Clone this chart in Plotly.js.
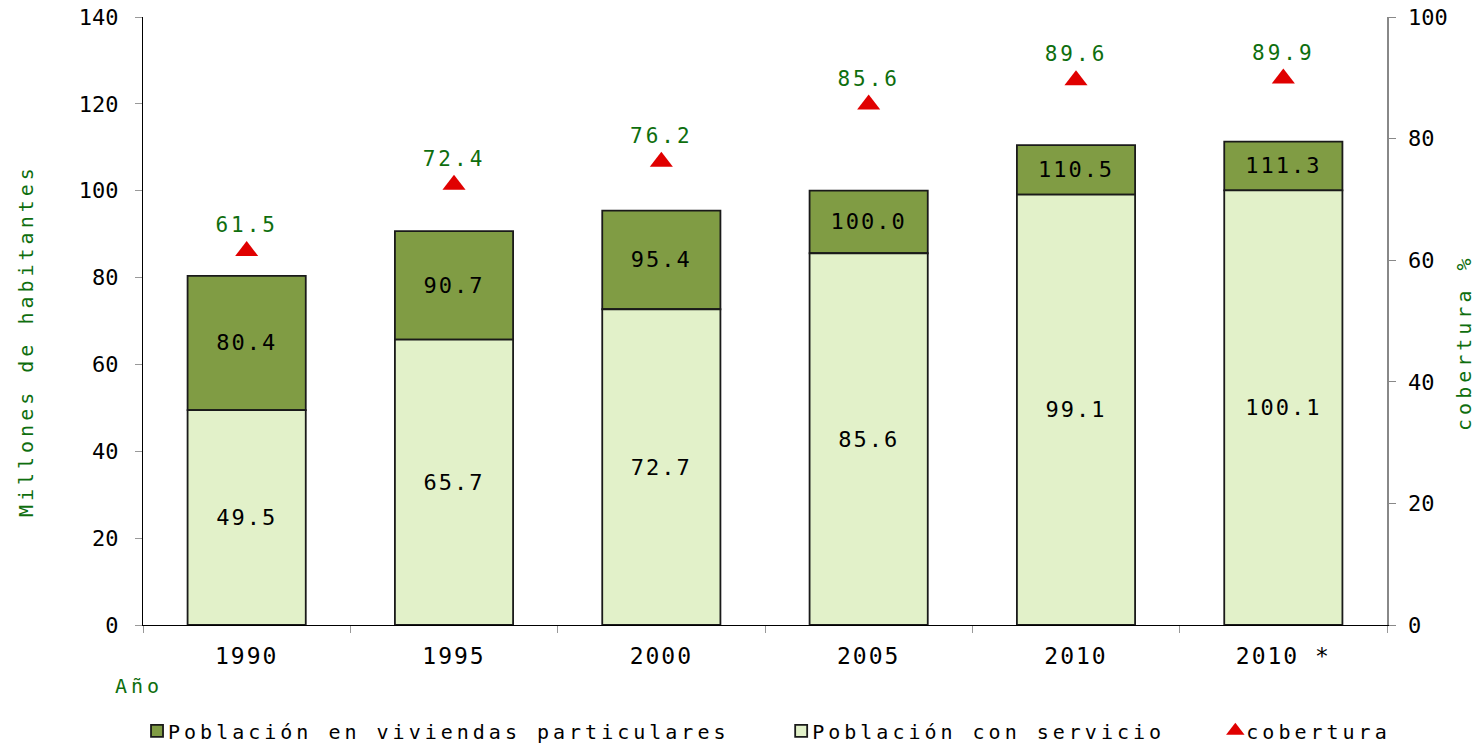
<!DOCTYPE html>
<html>
<head>
<meta charset="utf-8">
<script src="https://cdn.plot.ly/plotly-3.0.1.min.js"></script>
<style>
  html, body { margin: 0; padding: 0; background: #fff; }
  #chart { width: 1478px; height: 747px; }
</style>
</head>
<body>
<div id="chart"></div>
<script>
const years = ["1990", "1995", "2000", "2005", "2010", "2010 *"];
const poblacionViviendas = [80.4, 90.7, 95.4, 100.0, 110.5, 111.3];
const poblacionServicio = [49.5, 65.7, 72.7, 85.6, 99.1, 100.1];
const cobertura = [61.5, 72.4, 76.2, 85.6, 89.6, 89.9];
const seriesNames = ["Población en viviendas particulares", "Población con servicio", "cobertura"];

const FONT = "DejaVu Sans Mono";
const GREEN = "#0E6E0E";

const upperSeg = poblacionViviendas.map((v, i) => v - poblacionServicio[i]);

const traces = [
  {
    type: "bar",
    name: seriesNames[0],
    legend: "legend",
    x: years,
    y: upperSeg,
    base: poblacionServicio,
    text: poblacionViviendas.map(v => v.toFixed(1)),
    textposition: "inside",
    insidetextanchor: "middle",
    constraintext: "none",
    textangle: 0,
    textfont: { family: FONT, size: 22, color: "#000" },
    marker: { color: "#809C44", line: { color: "#1a1a1a", width: 1.8 } },
    width: 0.57,
    hoverinfo: "skip"
  },
  {
    type: "bar",
    name: seriesNames[1],
    legend: "legend2",
    x: years,
    y: poblacionServicio,
    text: poblacionServicio.map(v => v.toFixed(1)),
    textposition: "inside",
    insidetextanchor: "middle",
    constraintext: "none",
    textangle: 0,
    textfont: { family: FONT, size: 22, color: "#000" },
    marker: { color: "#E2F1C9", line: { color: "#1a1a1a", width: 1.8 } },
    width: 0.57,
    hoverinfo: "skip"
  },
  {
    type: "scatter",
    mode: "markers+text",
    name: seriesNames[2],
    legend: "legend3",
    x: years,
    y: cobertura,
    yaxis: "y2",
    text: cobertura.map(v => v.toFixed(1)),
    textposition: "top center",
    textfont: { family: FONT, size: 21, color: GREEN },
    marker: { symbol: "triangle-up", color: "#E00000", size: 20 },
    hoverinfo: "skip"
  }
];

function legendAt(x) {
  return {
    orientation: "h",
    x: x,
    xanchor: "left",
    y: -0.174,
    yanchor: "middle",
    font: { family: FONT, size: 20, color: "#000" },
    itemwidth: 30,
    bgcolor: "rgba(0,0,0,0)"
  };
}

const layout = {
  width: 1478,
  height: 747,
  margin: { l: 143, r: 91, t: 17, b: 122, autoexpand: false },
  paper_bgcolor: "#fff",
  plot_bgcolor: "#fff",
  barmode: "overlay",
  showlegend: true,
  font: { family: FONT, size: 22, color: "#000" },
  xaxis: {
    type: "category",
    showgrid: false,
    showline: true,
    linecolor: "#000",
    linewidth: 1.2,
    ticks: "outside",
    tickson: "boundaries",
    ticklen: 7,
    tickcolor: "#999",
    tickfont: { family: FONT, size: 23, color: "#000" },
    ticklabelstandoff: 10,
    zeroline: false,
    automargin: false
  },
  yaxis: {
    range: [0, 140],
    dtick: 20,
    showgrid: false,
    zeroline: false,
    showline: true,
    linecolor: "#000",
    linewidth: 1.2,
    ticks: "outside",
    ticklen: 7,
    tickcolor: "#999",
    tickfont: { family: FONT, size: 22, color: "#000" },
    ticklabelstandoff: 12,
    automargin: false
  },
  yaxis2: {
    overlaying: "y",
    side: "right",
    range: [0, 100],
    dtick: 20,
    showgrid: false,
    zeroline: false,
    showline: true,
    linecolor: "#888",
    linewidth: 1.5,
    ticks: "outside",
    ticklen: 7,
    tickcolor: "#888",
    tickfont: { family: FONT, size: 22, color: "#000" },
    ticklabelstandoff: 8,
    automargin: false
  },
  legend: legendAt(-0.0048),
  legend2: legendAt(0.513),
  legend3: legendAt(0.862),
  annotations: [
    {
      text: "Año",
      xref: "paper", yref: "paper",
      x: -0.0195, y: -0.1003,
      xanchor: "left", yanchor: "middle",
      showarrow: false,
      font: { family: FONT, size: 20, color: GREEN }
    },
    {
      text: "Millones de habitantes",
      xref: "paper", yref: "paper",
      x: (26 - 143) / 1245, y: (625 - 341) / 608,
      xanchor: "center", yanchor: "middle",
      textangle: -90,
      showarrow: false,
      font: { family: FONT, size: 20, color: GREEN }
    },
    {
      text: "cobertura %",
      xref: "paper", yref: "paper",
      x: (1465 - 143) / 1245, y: (625 - 343) / 608,
      xanchor: "center", yanchor: "middle",
      textangle: -90,
      showarrow: false,
      font: { family: FONT, size: 20, color: GREEN }
    }
  ]
};

function spacing(sel, px) {
  document.querySelectorAll(sel).forEach(t => { t.style.setProperty("letter-spacing", px + "px", "important"); });
}

function fixText() {
  const root = document.getElementById("chart");
  root.querySelectorAll("text").forEach(t => {
    if (seriesNames.includes(t.textContent.trim())) {
      t.style.setProperty("letter-spacing", "4px", "important");
      if (!t.dataset.shifted) {
        const x = parseFloat(t.getAttribute("x"));
        if (!isNaN(x)) { t.setAttribute("x", x - 9); t.dataset.shifted = "1"; }
      }
    }
  });
  root.querySelectorAll(".infolayer [clip-path]").forEach(el => el.removeAttribute("clip-path"));
  spacing("#chart text.annotation-text", 4);
  spacing("#chart text.bartext", 2);
  spacing("#chart .xtick text", 2);
  spacing("#chart .textpoint text", 3);
}

Plotly.newPlot("chart", traces, layout, { displayModeBar: false, staticPlot: true }).then(() => {
  fixText();
  requestAnimationFrame(fixText);
  setTimeout(fixText, 100);
  setTimeout(fixText, 400);
});
</script>
</body>
</html>
